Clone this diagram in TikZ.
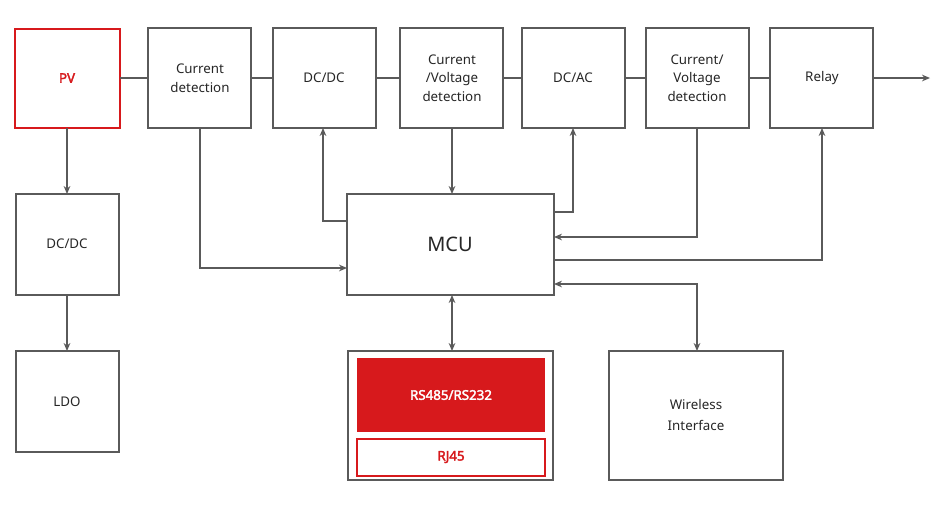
\documentclass[tikz,border=0pt]{standalone}
\usepackage{fontspec}
\setmainfont{Noto Sans}
\newfontfamily\boldf{Noto Sans}[FakeBold=2.5]
\usetikzlibrary{arrows.meta}
\definecolor{rd}{HTML}{D7191C}
\definecolor{ln}{HTML}{5A5A5A}
\begin{document}
\begin{tikzpicture}[x=0.75pt,y=-0.75pt,
  box/.style={draw=ln,line width=0.8pt,fill=white},
  lbl/.style={font=\fontsize{10}{14}\selectfont,align=center,text=black!85},
  blbl/.style={font=\boldf\fontsize{10}{14}\selectfont,align=center},
  con/.style={draw=ln,line width=0.9pt,-{Stealth[length=6pt,width=5pt]}},
  bicon/.style={draw=ln,line width=0.9pt,{Stealth[length=6pt,width=5pt]}-{Stealth[length=6pt,width=5pt]}}]
\useasboundingbox (0,0) rectangle (934,519);
% boxes
\draw[box,draw=rd,line width=1.2pt] (15,29) rectangle (120,128);
\node[blbl,text=rd] (pv) at (67,78) {PV};
\draw[box] (148,28) rectangle (251,128); \node[lbl] (cd) at (200,78) {Current\\detection};
\draw[box] (273,28) rectangle (376,128); \node[lbl] (dc1) at (324,78) {DC/DC};
\draw[box] (400,28) rectangle (503,128); \node[lbl] (cvd) at (452,78) {Current\\/Voltage\\detection};
\draw[box] (522,28) rectangle (625,128); \node[lbl] (dcac) at (573,78) {DC/AC};
\draw[box] (646,28) rectangle (749,128); \node[lbl] (cvd2) at (697,78) {Current/\\Voltage\\detection};
\draw[box] (770,28) rectangle (873,128); \node[lbl] (rel) at (822,78) {Relay};
\coordinate (out) at (930,78);
\draw[box] (16,194) rectangle (119,295); \node[lbl] (dc2) at (67,244) {DC/DC};
\draw[box] (16,351) rectangle (119,452); \node[lbl] (ldo) at (67,402) {LDO};
\draw[box] (347,194) rectangle (554,295); \node[lbl,font=\fontsize{15}{18}\selectfont] (mcu) at (450,244) {MCU};
\draw[box] (348,351) rectangle (553,480);
\fill[rd] (357,358) rectangle (545,432); \node[blbl,text=white] (rs) at (451,395) {RS485/RS232};
\draw[draw=rd,line width=1.2pt] (357,439) rectangle (545,476); \node[blbl,text=rd] (rj) at (451,457) {RJ45};
\draw[box] (609,351) rectangle (783,480); \node[lbl] (wl) at (696,415) {Wireless\\[2pt]Interface};
% horizontal chain
\draw[draw=ln,line width=0.9pt] (120,78) -- (148,78) (251,78) -- (273,78) (376,78) -- (400,78) (503,78) -- (522,78) (625,78) -- (646,78) (749,78) -- (770,78);
\draw[con] (873,78) -- (out);
% verticals
\draw[con] (67,128) -- (67,194);
\draw[con] (67,295) -- (67,351);
\draw[con] (200,128) -- (200,268) -- (347,268);
\draw[con] (347,221) -- (323,221) -- (323,128);
\draw[con] (452,128) -- (452,194);
\draw[con] (554,212) -- (573,212) -- (573,128);
\draw[con] (697,128) -- (697,237) -- (554,237);
\draw[con] (554,260) -- (822,260) -- (822,128);
\draw[bicon] (452,295) -- (452,351);
\draw[bicon] (554,284) -- (697,284) -- (697,351);
\end{tikzpicture}
\end{document}
